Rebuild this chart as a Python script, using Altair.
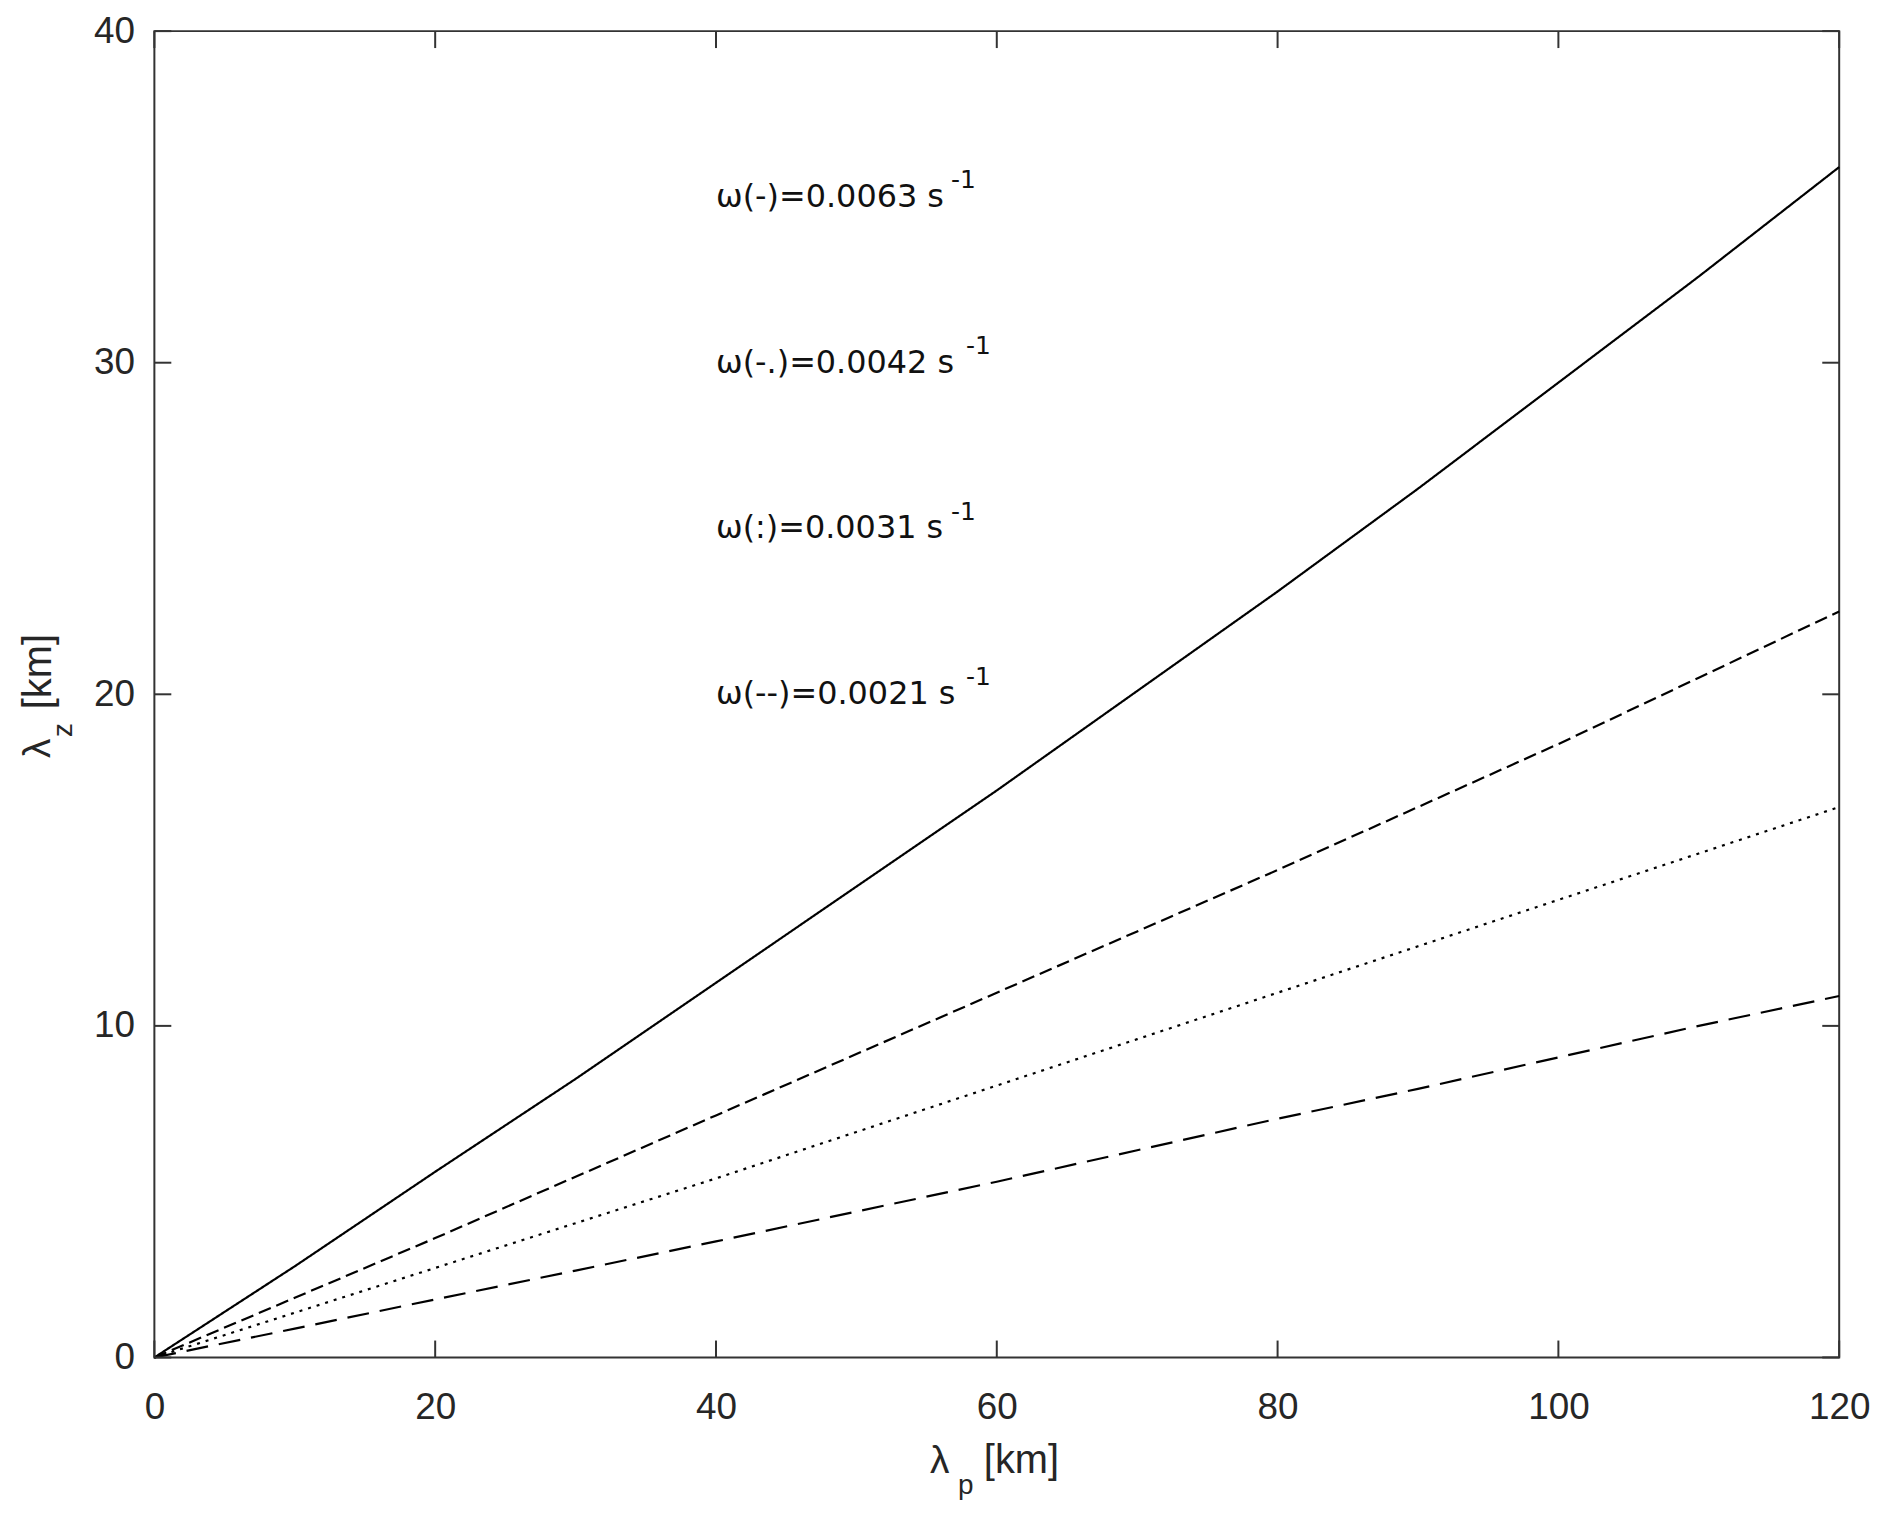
import altair as alt
import pandas as pd

# ---- data ----
lambda_p = [0, 10, 20, 30, 40, 50, 60, 70, 80, 90, 100, 110, 120]
lz_solid = [0, 2.75, 5.6, 8.4, 11.3, 14.2, 17.1, 20.1, 23.1, 26.2, 29.4, 32.6, 35.9]
lz_dashdot = [0, 1.8, 3.6, 5.45, 7.3, 9.15, 11.0, 12.85, 14.7, 16.6, 18.5, 20.5, 22.5]
lz_dotted = [0, 1.35, 2.7, 4.05, 5.4, 6.8, 8.2, 9.6, 11.0, 12.4, 13.8, 15.2, 16.6]
lz_dashed = [0, 0.87, 1.75, 2.62, 3.5, 4.4, 5.3, 6.25, 7.2, 8.1, 9.05, 10.0, 10.9]
series_names = ["ω(-)", "ω(-.)", "ω(:)", "ω(--)"]

label_texts = ["ω(-)=0.0063 s", "ω(-.)=0.0042 s", "ω(:)=0.0031 s", "ω(--)=0.0021 s"]
label_sup = ["-1", "-1", "-1", "-1"]
label_x = [40, 40, 40, 40]
label_y = [35, 30, 25, 20]

x_ticks = [0, 20, 40, 60, 80, 100, 120]
y_ticks = [0, 10, 20, 30, 40]

x_title_parts = ["λ", "p", "[km]"]
y_title_parts = ["λ", "z", "[km]"]

# ---- layout ----
W, H = 1692, 1332
TICK = 17
FONT = "Liberation Sans"
INK = "#262626"

rows = []
for name, vals in zip(series_names, [lz_solid, lz_dashdot, lz_dotted, lz_dashed]):
    for x, y in zip(lambda_p, vals):
        rows.append({"series": name, "lp": x, "lz": y})
df = pd.DataFrame(rows)

xs = alt.Scale(domain=[0, 120], nice=False, zero=False)
ys = alt.Scale(domain=[0, 40], nice=False, zero=False)

axis_common = dict(ticks=False, domain=False, grid=False,
                   labelFontSize=37, labelFont=FONT, labelColor=INK,
                   labelFlush=False, labelOverlap=False, title=None)
x_axis = alt.Axis(values=x_ticks, labelPadding=32, **axis_common)
y_axis = alt.Axis(values=y_ticks, labelPadding=20, **axis_common)

lines = alt.Chart(df).mark_line(color="black", strokeWidth=2.2).encode(
    x=alt.X("lp:Q", scale=xs, axis=x_axis),
    y=alt.Y("lz:Q", scale=ys, axis=y_axis),
    strokeDash=alt.StrokeDash("series:N",
                              scale=alt.Scale(domain=series_names,
                                              range=[[1, 0], [13, 6], [3, 6], [22, 11]]),
                              legend=None),
    detail="series:N",
)

df_xt = pd.DataFrame({"lp": x_ticks})
df_yt = pd.DataFrame({"lz": y_ticks})
tick_style = dict(color="#333333", strokeWidth=2)

xt_bottom = alt.Chart(df_xt).mark_rule(**tick_style).encode(
    x=alt.X("lp:Q", scale=xs, axis=x_axis), y=alt.value(H), y2=alt.value(H - TICK))
xt_top = alt.Chart(df_xt).mark_rule(**tick_style).encode(
    x=alt.X("lp:Q", scale=xs, axis=x_axis), y=alt.value(0), y2=alt.value(TICK))
yt_left = alt.Chart(df_yt).mark_rule(**tick_style).encode(
    y=alt.Y("lz:Q", scale=ys, axis=y_axis), x=alt.value(0), x2=alt.value(TICK))
yt_right = alt.Chart(df_yt).mark_rule(**tick_style).encode(
    y=alt.Y("lz:Q", scale=ys, axis=y_axis), x=alt.value(W), x2=alt.value(W - TICK))

df_lab = pd.DataFrame({"t": label_texts, "s": label_sup, "lp": label_x, "lz": label_y})
labels = alt.Chart(df_lab).mark_text(align="left", baseline="middle", font="DejaVu Sans",
                                     fontSize=32, color="#111111").encode(
    x=alt.X("lp:Q", scale=xs, axis=x_axis), y=alt.Y("lz:Q", scale=ys, axis=y_axis), text="t:N")
# superscripts placed after each label's rendered text
sup_layers = []
for i in range(len(label_texts)):
    sup_layers.append(
        alt.Chart(df_lab.iloc[[i]]).mark_text(
            align="left", baseline="alphabetic", font="DejaVu Sans", fontSize=25,
            color="#111111", dx=[236, 251, 236, 251][i], dy=-9).encode(
            x=alt.X("lp:Q", scale=xs, axis=x_axis), y=alt.Y("lz:Q", scale=ys, axis=y_axis),
            text="s:N"))


def txt(s, x, y, size, angle=0):
    return alt.Chart(pd.DataFrame({"t": [s]})).mark_text(
        align="left", baseline="alphabetic", font=FONT, fontSize=size, color=INK,
        angle=angle).encode(x=alt.value(x), y=alt.value(y), text="t:N")


xtitle = (txt(x_title_parts[0], 779, 1448, 39) + txt(x_title_parts[1], 807, 1469, 28)
          + txt(x_title_parts[2], 833, 1448, 40))
ytitle = (txt(y_title_parts[0], -105, 730, 39, 270) + txt(y_title_parts[1], -83, 709, 28, 270)
          + txt(y_title_parts[2], -104, 681, 40, 270))

chart = alt.layer(lines, xt_bottom, xt_top, yt_left, yt_right, labels, *sup_layers,
                  xtitle, ytitle).properties(
    width=W, height=H,
    autosize=alt.AutoSizeParams(type="none"),
    padding={"left": 147, "top": 20, "right": 45, "bottom": 160},
    background="white",
).configure_view(stroke="#333333", strokeWidth=2)

chart.save("out.html", embed_options={"renderer": "svg", "actions": False})
